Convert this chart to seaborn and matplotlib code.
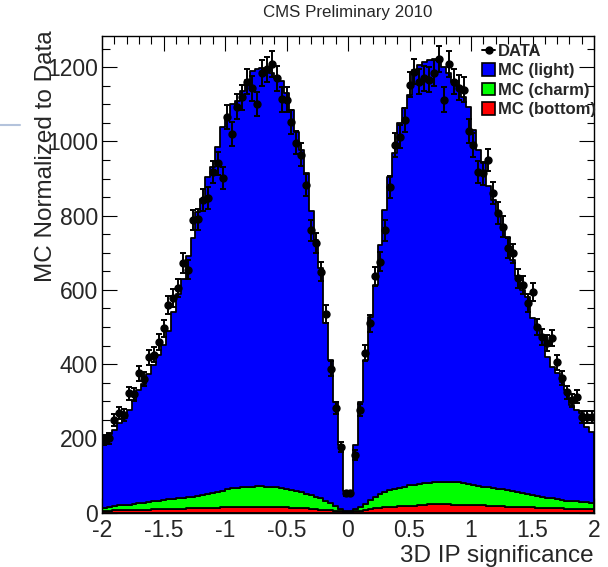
import numpy as np
import pandas as pd
import matplotlib
matplotlib.use("Agg")
import matplotlib.pyplot as plt
from matplotlib.patches import Patch
from matplotlib.lines import Line2D
from matplotlib.ticker import MultipleLocator, FuncFormatter
import seaborn as sns

# 3D impact-parameter significance, 100 bins between -2 and 2
x_range = (-2.0, 2.0)
n_bins = 100

data_counts = [
    195, 200, 249, 267, 263, 321, 318, 375, 360, 418,
    425, 460, 496, 559, 578, 604, 672, 654, 788, 790,
    842, 847, 918, 941, 901, 1065, 1020, 1094, 1119, 1161,
    1143, 1101, 1185, 1194, 1208, 1170, 1113, 1112, 1053, 997,
    964, 883, 760, 727, 649, 535, 388, 281, 177, 52,
    52, 155, 276, 430, 510, 636, 676, 760, 878, 990,
    1013, 1058, 1153, 1188, 1161, 1170, 1166, 1184, 1222, 1112,
    1208, 1161, 1145, 1139, 1027, 990, 918, 914, 950, 860,
    807, 770, 712, 698, 631, 613, 564, 595, 500, 474,
    456, 470, 405, 362, 324, 303, 312, 258, 258, 258,
]

mc_light = [
    192, 197, 205, 221, 234, 255, 280, 305, 319, 344,
    368, 393, 418, 454, 503, 552, 590, 648, 697, 765,
    798, 855, 878, 930, 981, 1005, 1034, 1043, 1067, 1097,
    1120, 1124, 1127, 1122, 1116, 1104, 1096, 1066, 1024, 967,
    922, 864, 765, 692, 622, 479, 384, 281, 172, 53,
    53, 173, 282, 386, 494, 570, 670, 760, 845, 905,
    984, 1020, 1052, 1118, 1128, 1136, 1138, 1141, 1142, 1118,
    1101, 1079, 1067, 1041, 1018, 957, 905, 871, 812, 777,
    742, 698, 683, 622, 581, 548, 533, 477, 452, 432,
    380, 355, 339, 318, 298, 259, 246, 240, 204, 192,
]

mc_charm = [
    8, 10, 11, 13, 13, 14, 16, 17, 18, 20,
    21, 23, 25, 26, 27, 28, 30, 31, 32, 34,
    35, 38, 39, 42, 45, 49, 51, 51, 52, 53,
    54, 55, 55, 54, 54, 53, 51, 50, 48, 45,
    43, 40, 37, 34, 30, 24, 20, 13, 7, 3,
    3, 6, 11, 17, 24, 32, 37, 40, 44, 47,
    49, 53, 56, 57, 58, 59, 58, 58, 59, 61,
    61, 61, 60, 59, 56, 54, 53, 51, 50, 47,
    47, 45, 44, 42, 40, 37, 35, 33, 32, 29,
    28, 26, 25, 23, 22, 21, 20, 19, 18, 17,
]

mc_bottom = [
    5, 5, 6, 6, 7, 7, 7, 8, 8, 8,
    9, 9, 9, 10, 10, 10, 10, 11, 11, 11,
    12, 12, 13, 13, 14, 14, 15, 16, 16, 16,
    16, 16, 16, 16, 15, 15, 15, 14, 13, 13,
    12, 11, 10, 9, 8, 7, 6, 4, 3, 1,
    1, 3, 5, 7, 9, 11, 13, 15, 16, 16,
    17, 17, 17, 18, 19, 20, 22, 23, 23, 22,
    22, 21, 21, 20, 20, 20, 19, 19, 18, 18,
    17, 17, 16, 16, 15, 15, 14, 14, 13, 13,
    12, 12, 11, 11, 10, 10, 10, 9, 9, 9,
]

samples = ["MC (light)", "MC (charm)", "MC (bottom)"]
colors = ["#0000ff", "#00ff00", "#ff0000"]

title = "CMS Preliminary 2010"
x_title = "3D IP significance"
y_title = "MC Normalized to Data"
y_max = 1284

sns.set_style("ticks")
plt.rcParams["font.family"] = ["Liberation Sans", "DejaVu Sans"]
plt.rcParams["axes.unicode_minus"] = False

edges = np.linspace(x_range[0], x_range[1], n_bins + 1)
centers = 0.5 * (edges[:-1] + edges[1:])

mc = pd.concat(
    [pd.DataFrame({"ip_sig": centers, "entries": counts, "sample": name})
     for name, counts in zip(samples, [mc_light, mc_charm, mc_bottom])],
    ignore_index=True,
)
palette = dict(zip(samples, colors))

W, H = 608, 567
fig = plt.figure(figsize=(W / 100, H / 100), dpi=100)
ax_l, ax_r, ax_t, ax_b = 102, 594, 36, 512.5
ax = fig.add_axes([ax_l / W, 1 - ax_b / H, (ax_r - ax_l) / W, (ax_b - ax_t) / H])

# stacked MC templates: last hue level sits at the bottom of the stack
sns.histplot(
    data=mc, x="ip_sig", weights="entries", hue="sample",
    hue_order=samples, palette=palette, bins=edges.tolist(),
    multiple="stack", element="step", fill=True, alpha=1,
    edgecolor="black", linewidth=1.3, legend=False, ax=ax,
)

data_arr = np.asarray(data_counts, dtype=float)
ax.errorbar(
    centers, data_arr, yerr=np.sqrt(data_arr), fmt="o", color="black",
    ms=5, elinewidth=1.4, capsize=2.5, capthick=1.4, zorder=5,
)

ax.set_xlim(*x_range)
ax.set_ylim(0, y_max)

ax.xaxis.set_major_locator(MultipleLocator(0.5))
ax.xaxis.set_minor_locator(MultipleLocator(0.1))
ax.yaxis.set_major_locator(MultipleLocator(200))
ax.yaxis.set_minor_locator(MultipleLocator(50))
fmt = FuncFormatter(lambda v, p: f"{v:g}")
ax.xaxis.set_major_formatter(fmt)
ax.yaxis.set_major_formatter(fmt)

ax.tick_params(which="both", direction="in", top=True, right=True,
               width=0.8, color="black")
ax.tick_params(which="major", length=10.8, labelsize=16.5)
ax.tick_params(which="minor", length=5.4)
ax.tick_params(axis="x", which="major", pad=5)
ax.tick_params(axis="y", which="major", pad=3)
for s in ax.spines.values():
    s.set_color("black")
    s.set_linewidth(1.0)

ax.set_xlabel(x_title, fontsize=17.5, loc="right")
ax.xaxis.set_label_coords(1.0, -0.068)
ax.xaxis.label.set_va("top")
ax.set_ylabel(y_title, fontsize=17.5, loc="top")
ax.yaxis.set_label_coords(-0.0915, 1.0 + 6 / (ax_b - ax_t))

fig.text((ax_l + ax_r) / 2 / W, 1 - 13 / H, title, ha="center", va="center",
         fontsize=12.2)

handles = [Line2D([], [], marker="o", color="black", ms=5, lw=1.4)]
handles += [Patch(facecolor=c, edgecolor="black", linewidth=1.2) for c in colors]
ax.legend(
    handles, ["DATA"] + samples, loc="upper left",
    bbox_to_anchor=((482 - ax_l) / (ax_r - ax_l), (ax_b - 44) / (ax_b - ax_t)),
    frameon=False, prop={"weight": "bold", "size": 12},
    handlelength=0.8, handleheight=0.8, handletextpad=0.15,
    labelspacing=0.25, borderpad=0, borderaxespad=0,
)

fig.add_artist(Line2D([0, 20 / W], [1 - 125 / H] * 2, color="#b4c3dc", lw=1.5,
                      transform=fig.transFigure))

fig.savefig("out.png", dpi=100)
